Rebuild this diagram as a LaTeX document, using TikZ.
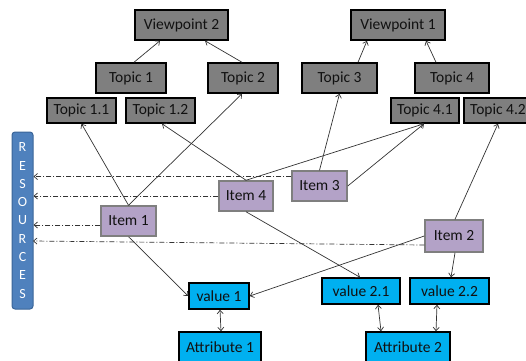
\documentclass[tikz,border=0pt]{standalone}
\usepackage{fontspec}
\setmainfont{Carlito}
\usetikzlibrary{arrows.meta,calc}
\definecolor{boxgray}{HTML}{7F7F7F}
\definecolor{itemfill}{HTML}{B3A2C7}
\definecolor{itemline}{HTML}{7F7F7F}
\definecolor{valfill}{HTML}{00B0F0}
\definecolor{resfill}{HTML}{4F81BD}
\definecolor{resline}{HTML}{3A6598}
\definecolor{txt}{HTML}{111111}
\definecolor{conn}{HTML}{333333}
\tikzset{
  base/.style={draw, line width=1.5pt, inner sep=0pt, font=\fontsize{15.5}{17}\selectfont, text=txt},
  topicbox/.style={base, fill=boxgray, draw=black},
  itembox/.style={base, fill=itemfill, draw=itemline},
  valbox/.style={base, fill=valfill, draw=black},
  link/.style={draw=conn, line width=0.7pt, -{Straight Barb[length=3.5pt,width=6pt]}},
  biarrow/.style={draw=conn, line width=0.7pt, {Straight Barb[length=3.5pt,width=6pt]}-{Straight Barb[length=3.5pt,width=6pt]}},
  resarrow/.style={draw=conn, line width=0.7pt, dash pattern=on 5pt off 2pt on 1pt off 2pt, -{Straight Barb[length=3.5pt,width=6pt]}}
}
\begin{document}
\begin{tikzpicture}[x=1pt,y=-1pt]
\useasboundingbox (0,0) rectangle (526,360);
% top level
\node[topicbox, minimum width=93pt, minimum height=30pt] (vp2) at (181.5,25) {Viewpoint 2};
\node[topicbox, minimum width=94pt, minimum height=30pt] (vp1) at (398,25) {Viewpoint 1};
% topics
\node[topicbox, minimum width=70pt, minimum height=30pt] (t1) at (131,78) {Topic 1};
\node[topicbox, minimum width=70pt, minimum height=30pt] (t2) at (243,78) {Topic 2};
\node[topicbox, minimum width=75pt, minimum height=30pt] (t3) at (339.5,78) {Topic 3};
\node[topicbox, minimum width=74pt, minimum height=30pt] (t4) at (452,78) {Topic 4};
% sub-topics
\node[topicbox, minimum width=69pt, minimum height=25pt] (t11) at (81.5,110.5) {Topic 1.1};
\node[topicbox, minimum width=69pt, minimum height=25pt] (t12) at (160.5,110.5) {Topic 1.2};
\node[topicbox, minimum width=68pt, minimum height=25pt] (t41) at (425,110.5) {Topic 4.1};
\node[topicbox, minimum width=68pt, minimum height=25pt] (t42) at (498,110.5) {Topic 4.2};
% resources bar
\node[draw=resline, fill=resfill, line width=1pt, rounded corners=3pt, minimum width=21pt, minimum height=177pt, inner sep=0pt,
      text=white, font=\fontsize{14}{18.3}\selectfont, align=center] (res) at (22.5,220.5)
      {R\\E\\S\\O\\U\\R\\C\\E\\S};
% items
\node[itembox, minimum width=55pt, minimum height=30pt] (i1) at (128.5,221) {Item 1};
\node[itembox, minimum width=54pt, minimum height=30pt] (i4) at (246,196) {Item 4};
\node[itembox, minimum width=55pt, minimum height=30pt] (i3) at (319.5,186) {Item 3};
\node[itembox, minimum width=58pt, minimum height=32pt] (i2) at (454,236) {Item 2};
% values and attributes
\node[valbox, minimum width=60pt, minimum height=26pt] (v1) at (219,296) {value 1};
\node[valbox, minimum width=78pt, minimum height=26pt] (v21) at (361,291) {value 2.1};
\node[valbox, minimum width=79pt, minimum height=26pt] (v22) at (449.5,291) {value 2.2};
\node[valbox, minimum width=82pt, minimum height=30pt] (a1) at (220,347) {Attribute 1};
\node[valbox, minimum width=84pt, minimum height=30pt] (a2) at (408,347) {Attribute 2};
% topic -> viewpoint
\draw[link] ([xshift=3pt]t1.north) -- ([xshift=-21.5pt]vp2.south);
\draw[link] ([xshift=-1pt]t2.north) -- ([xshift=23.5pt]vp2.south);
\draw[link] ([xshift=18.5pt]t3.north) -- ([xshift=-31pt]vp1.south);
\draw[link] ([xshift=-16pt]t4.north) -- ([xshift=28pt]vp1.south);
% item -> topics
\draw[link] (i1.north) -- (t11.south);
\draw[link] (i1.north) -- ([xshift=-1pt]t2.south);
\draw[link] (i4.north) -- ([xshift=1.5pt]t12.south);
\draw[link] (i4.north) -- ([xshift=-1pt]t41.south);
\draw[link] (i3.north) -- (t3.south);
\draw[link] (i3.east) -- ([xshift=-1pt]t41.south);
\draw[link] ([xshift=1pt]i2.north) -- (t42.south);
% item -> values
\draw[link] (i1.south) -- (v1.west);
\draw[link] (i2.west) -- (v1.east);
\draw[link] (i4.south) -- ([xshift=-1pt]v21.north);
\draw[link] ([xshift=1pt]i2.south) -- ([xshift=1.5pt]v22.north);
% values <-> attributes
\draw[biarrow] ([xshift=1pt]v1.south) -- ([xshift=1pt]a1.north);
\draw[biarrow] ([xshift=17pt]v21.south) -- ([xshift=-27pt]a2.north);
\draw[biarrow] ([xshift=-12.5pt]v22.south) -- ([xshift=28pt]a2.north);
% items -> resources
\coordinate (c3) at ([yshift=9.5pt]i3.west);
\coordinate (c1) at ([yshift=-4pt]i1.west);
\coordinate (c2) at ([yshift=-9pt]i2.west);
\coordinate (r2) at (33,241);
\draw[resarrow] (c3) -- (c3 -| res.east);
\draw[resarrow] (i4.west) -- (i4.west -| res.east);
\draw[resarrow] (c1) -- (c1 -| res.east);
\draw[resarrow] (c2) -- (r2);
\end{tikzpicture}
\end{document}
